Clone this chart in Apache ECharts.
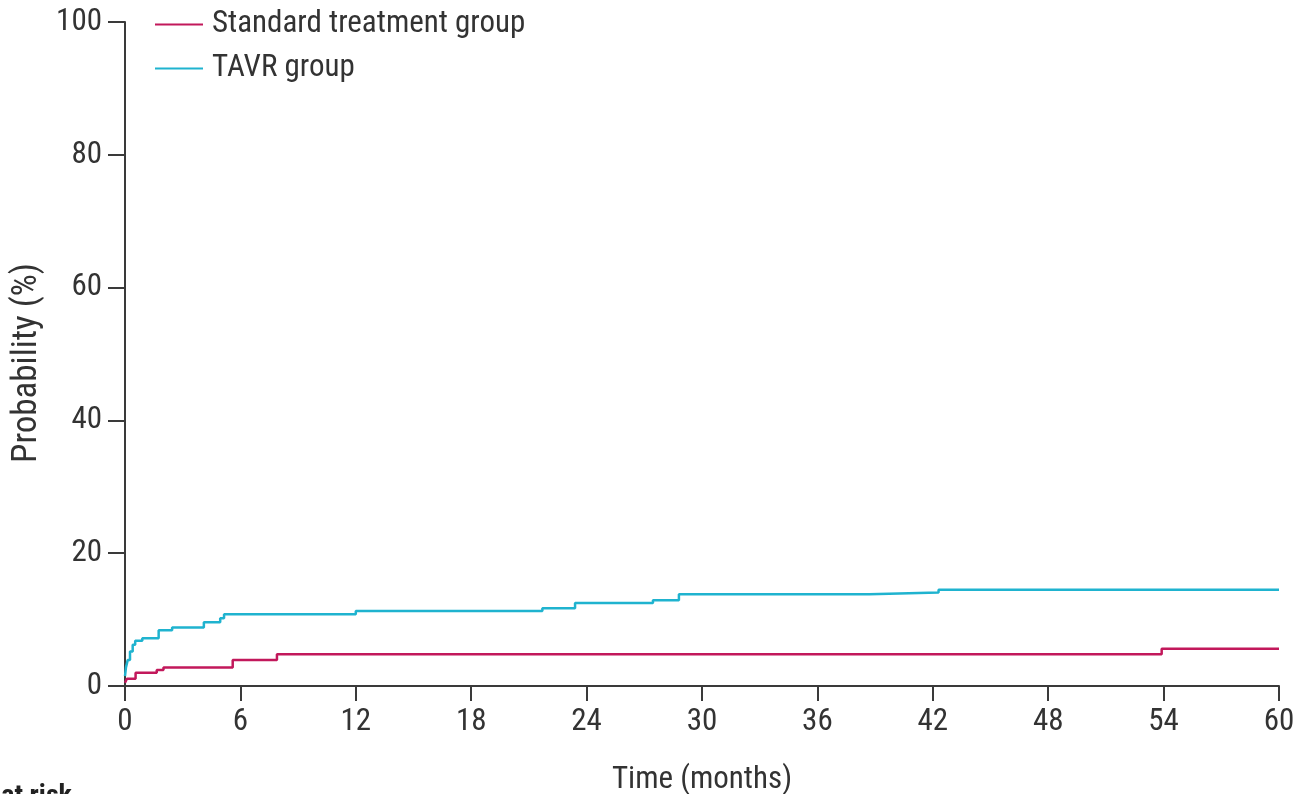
<!DOCTYPE html>
<html><head><meta charset="utf-8">
<script src="https://cdn.jsdelivr.net/npm/echarts@6/dist/echarts.min.js"></script>
<style>html,body{margin:0;padding:0;background:#fff}#c{width:1304px;height:794px}</style>
</head><body><div id="c"></div>
<script>
const seriesNames = ['Standard treatment group', 'TAVR group'];
const xTicks = [0, 6, 12, 18, 24, 30, 36, 42, 48, 54, 60];
const yTicks = [0, 20, 40, 60, 80, 100];
// [time (months), cumulative probability (%)]
const standardSteps = [[0,0.5],[0.1,1.1],[0.55,2.0],[1.65,2.4],[2.0,2.8],[5.6,3.9],[7.9,4.8],[53.9,5.6],[60,5.6]];
const tavrSteps = [[0,1.5],[0.05,2.8],[0.14,3.9],[0.26,5.2],[0.4,6.2],[0.53,6.8],[0.9,7.2],[1.75,8.4],[2.45,8.8],[4.1,9.6],[4.95,10.2],[5.15,10.8],[12.0,11.3],[21.7,11.7],[23.4,12.5],[27.45,12.9],[28.8,13.8],[38.7,14.1],[42.3,14.5],[60,14.5]];

const FONT = '"Liberation Sans Narrow","Roboto Condensed","Liberation Sans",sans-serif';
const AX = '#3a3a3a';
const TXT = '#333';
const chart = echarts.init(document.getElementById('c'), null, {renderer:'canvas'});
chart.setOption({
  animation:false,
  backgroundColor:'#fff',
  grid:{left:125, right:25, top:22, bottom:108, containLabel:false, outerBoundsMode:'none'},
  legend:{
    orient:'vertical', left:150, top:4, itemGap:13,
    icon:'rect', itemWidth:48, itemHeight:2,
    data:seriesNames,
    textStyle:{fontFamily:FONT, fontSize:31, color:TXT, padding:[0,0,0,4]}
  },
  xAxis:{
    type:'value', min:0, max:60, interval:6,
    name:'Time (months)', nameLocation:'middle', nameGap:79,
    nameTextStyle:{fontFamily:FONT, fontSize:31, color:TXT},
    axisLine:{lineStyle:{color:AX, width:2}},
    axisTick:{length:15, lineStyle:{color:AX, width:2}},
    axisLabel:{fontFamily:FONT, fontSize:31, color:TXT, margin:21,
      formatter:v=>xTicks.includes(v)?String(v):''},
    splitLine:{show:false}
  },
  yAxis:{
    type:'value', min:0, max:100, interval:20,
    name:'Probability (%)', nameLocation:'middle', nameGap:76, nameRotate:90,
    nameTextStyle:{fontFamily:FONT, fontSize:35, color:TXT, padding:[0,18,0,0]},
    axisLine:{show:true, lineStyle:{color:AX, width:2}},
    axisTick:{show:true, length:17, lineStyle:{color:AX, width:2}},
    axisLabel:{fontFamily:FONT, fontSize:31, color:TXT, margin:23,
      formatter:v=>yTicks.includes(v)?String(v):''},
    splitLine:{show:false}
  },
  series:[
    {name:seriesNames[0], type:'line', step:'end', data:standardSteps, showSymbol:false, symbol:'none',
     lineStyle:{color:'#c2185b', width:2.5}, itemStyle:{color:'#c2185b'}, z:3},
    {name:seriesNames[1], type:'line', step:'end', data:tavrSteps, showSymbol:false, symbol:'none',
     lineStyle:{color:'#1fb3cf', width:2.5}, itemStyle:{color:'#1fb3cf'}, z:4}
  ],
  graphic:[
    {type:'text', right:1232, top:783, style:{text:'Number at risk', fontFamily:FONT, fontSize:28, fontWeight:'bold', fill:'#222'}}
  ]
});
</script></body></html>
